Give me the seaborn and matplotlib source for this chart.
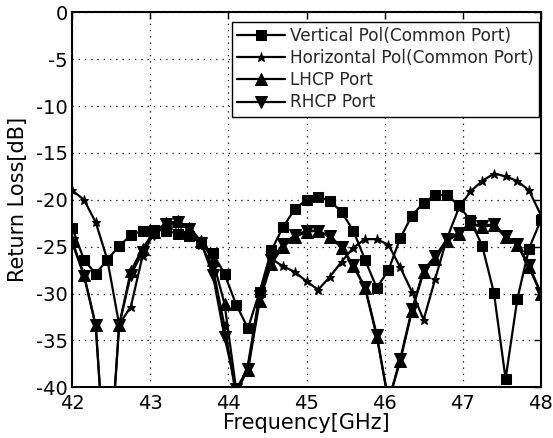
import numpy as np
import pandas as pd
import matplotlib
matplotlib.use("Agg")
import matplotlib.pyplot as plt
import seaborn as sns

# ---- data ----
freq = [42.00, 42.15, 42.30, 42.45, 42.60, 42.75, 42.90, 43.05, 43.20, 43.35,
        43.50, 43.65, 43.80, 43.95, 44.10, 44.25, 44.40, 44.55, 44.70, 44.85,
        45.00, 45.15, 45.30, 45.45, 45.60, 45.75, 45.90, 46.05, 46.20, 46.35,
        46.50, 46.65, 46.80, 46.95, 47.10, 47.25, 47.40, 47.55, 47.70, 47.85,
        48.00]

vertical_pol = [-23.0, -26.4, -27.9, -26.4, -24.9, -23.8, -23.3, -23.2, -23.3, -23.6,
                -23.9, -24.6, -25.7, -27.9, -31.2, -33.7, -29.8, -25.4, -22.9, -21.0,
                -20.0, -19.7, -20.1, -21.3, -23.3, -26.4, -29.4, -27.5, -24.1, -21.7,
                -20.3, -19.5, -19.5, -20.6, -22.2, -24.9, -29.9, -39.1, -30.6, -25.2,
                -22.2]

horizontal_pol = [-19.0, -20.0, -22.4, -26.4, -33.3, -31.4, -26.0, -23.3, -22.7, -22.6,
                  -23.0, -24.8, -27.2, -33.5, -41.0, -37.6, -30.0, -26.3, -27.1, -27.7,
                  -28.7, -29.6, -28.2, -26.6, -25.1, -24.2, -24.2, -24.8, -27.2, -29.8,
                  -32.8, -28.4, -24.1, -20.9, -19.1, -18.0, -17.2, -17.5, -18.0, -19.0,
                  -21.6]

lhcp = [-24.4, -28.0, -33.4, -52.0, -33.4, -27.6, -25.2, -23.4, -22.5, -22.3,
        -23.0, -24.4, -26.4, -31.1, -40.3, -38.2, -30.8, -26.8, -25.0, -24.0,
        -23.4, -23.3, -24.0, -25.1, -27.1, -29.4, -34.6, -41.5, -37.2, -31.9,
        -27.7, -26.3, -24.4, -23.6, -22.6, -22.9, -22.7, -24.0, -24.8, -27.2,
        -30.0]

rhcp = [-24.6, -28.1, -33.4, -52.0, -33.4, -28.0, -25.6, -23.6, -22.6, -22.4,
        -23.1, -24.6, -28.0, -34.6, -40.2, -38.0, -30.3, -26.4, -24.7, -23.8,
        -23.3, -23.3, -23.9, -25.0, -27.0, -29.3, -34.4, -41.5, -37.0, -31.7,
        -27.5, -26.0, -24.2, -23.5, -22.5, -22.8, -22.6, -23.9, -24.7, -27.0,
        -29.9]

labels = ["Vertical Pol(Common Port)", "Horizontal Pol(Common Port)",
          "LHCP Port", "RHCP Port"]
series = [vertical_pol, horizontal_pol, lhcp, rhcp]

x_ticks = [42, 43, 44, 45, 46, 47, 48]
y_ticks = [0, -5, -10, -15, -20, -25, -30, -35, -40]

# ---- style ----
sns.set_theme(style="white")
plt.rcParams['font.family'] = ['DejaVu Sans']

fig = plt.figure(figsize=(5.53, 4.38), dpi=100)
ax = fig.add_axes([0.1307, 0.1158, 0.8471, 0.8561])

markers = ['s', '*', '^', 'v']
msizes = [6.5, 6.5, 8.5, 8.5]

for lab, vals, mk, ms in zip(labels, series, markers, msizes):
    df = pd.DataFrame({"Frequency": freq, "RL": vals})
    sns.lineplot(data=df, x="Frequency", y="RL", ax=ax, color="black",
                 marker=mk, markersize=ms, markeredgecolor="black",
                 markerfacecolor="black", linewidth=1.6, label=lab,
                 estimator=None, sort=False)

ax.set_xlim(42, 48)
ax.set_ylim(-40, 0)
ax.set_xticks(x_ticks)
ax.set_yticks(y_ticks)
ax.set_xticklabels([str(t) for t in x_ticks])
ax.set_yticklabels([str(t) for t in y_ticks])

ax.grid(True, color="black", linestyle=(0, (1, 4)), linewidth=0.9)
ax.set_axisbelow(True)
for sp in ax.spines.values():
    sp.set_color("black")
    sp.set_linewidth(1.5)
    sp.set_visible(True)

ax.tick_params(direction="in", length=5, width=1, top=True, right=True,
               labelsize=14, colors="black")
ax.tick_params(axis="x", pad=5)
ax.tick_params(axis="y", pad=3)

ax.set_xlabel("Frequency[GHz]", fontsize=15, labelpad=0, color="black")
ax.set_ylabel("Return Loss[dB]", fontsize=15, labelpad=6, color="black")

handles, labs = ax.get_legend_handles_labels()
leg = ax.legend(handles, labs, loc="upper right",
                bbox_to_anchor=(0.996, 0.975), borderaxespad=0,
                fontsize=12.2, frameon=True, fancybox=False, framealpha=1,
                edgecolor="black", handlelength=2.8, handletextpad=0.3,
                labelspacing=0.25, borderpad=0.3)
leg.get_frame().set_linewidth(1.0)

fig.savefig("out.png", dpi=100)
